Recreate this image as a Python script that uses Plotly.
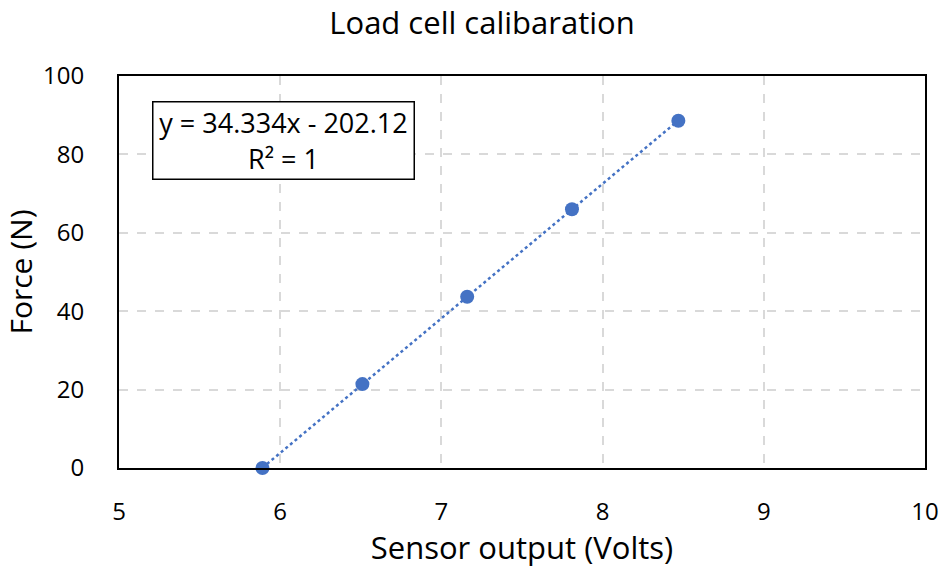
import numpy as np
import plotly.graph_objects as go

# Data
sensor_volts = [5.89, 6.51, 7.16, 7.81, 8.47]
force_n = [0.0, 21.4, 43.7, 66.0, 88.6]

x_ticks = [5, 6, 7, 8, 9, 10]
y_ticks = [0, 20, 40, 60, 80, 100]

equation_text = "y = 34.334x - 202.12<br>R² = 1"

# Linear trendline (least squares fit)
coef = np.polyfit(sensor_volts, force_n, 1)
trend_x = [min(sensor_volts), max(sensor_volts)]
trend_y = [coef[0] * v + coef[1] for v in trend_x]

FONT = "Open Sans"
BLUE = "#4472C4"

W, H = 943, 568
L, R, T, B = 119, 18, 76, 100
PW, PH = W - L - R, H - T - B

fig = go.Figure()
fig.add_trace(go.Scatter(
    x=trend_x, y=trend_y, mode="lines",
    line=dict(color=BLUE, width=2.5, dash="dot"),
    hoverinfo="skip", showlegend=False, cliponaxis=False,
))
fig.add_trace(go.Scatter(
    x=sensor_volts, y=force_n, mode="markers",
    marker=dict(color=BLUE, size=14),
    showlegend=False, cliponaxis=False,
))

fig.update_layout(
    width=W, height=H,
    margin=dict(l=L, r=R, t=T, b=B),
    paper_bgcolor="white", plot_bgcolor="white",
    font=dict(family=FONT, color="#000000"),
    title=dict(text="Load cell calibaration", x=482 / W, xanchor="center",
               y=1 - 23 / H, yanchor="middle", yref="container",
               font=dict(size=31, family=FONT, color="#000000")),
    xaxis=dict(
        range=[5, 10], tickvals=x_ticks, ticktext=[str(t) for t in x_ticks],
        showline=True, linecolor="black", linewidth=2, mirror=True,
        showgrid=True, gridcolor="#D9D9D9", gridwidth=1.5, griddash="dash",
        zeroline=False, ticks="", ticklabelstandoff=21,
        tickfont=dict(size=24, family=FONT),
        title=dict(text="Sensor output (Volts)", standoff=9,
                   font=dict(size=31, family=FONT)),
        automargin=False,
    ),
    yaxis=dict(
        range=[0, 100], tickvals=y_ticks, ticktext=[str(t) for t in y_ticks],
        showline=True, linecolor="black", linewidth=2, mirror=True,
        showgrid=True, gridcolor="#D9D9D9", gridwidth=1.5, griddash="dash",
        zeroline=False, ticks="", ticklabelstandoff=28,
        tickfont=dict(size=24, family=FONT),
        title=dict(text="Force (N)", standoff=12,
                   font=dict(size=30, family=FONT)),
        automargin=False,
    ),
    annotations=[dict(
        text=equation_text, xref="paper", yref="paper",
        x=(152 - L) / PW, y=(T + PH - 101) / PH,
        xanchor="left", yanchor="top", showarrow=False, align="center",
        font=dict(size=27, family=FONT, color="black"),
        bordercolor="black", borderwidth=1.5, borderpad=0,
        bgcolor="white", width=260, height=76,
    )],
)

fig.write_html(
    "out.html",
    config={"displayModeBar": False},
    post_script="document.body.style.margin='0';document.body.style.overflow='hidden';",
)
